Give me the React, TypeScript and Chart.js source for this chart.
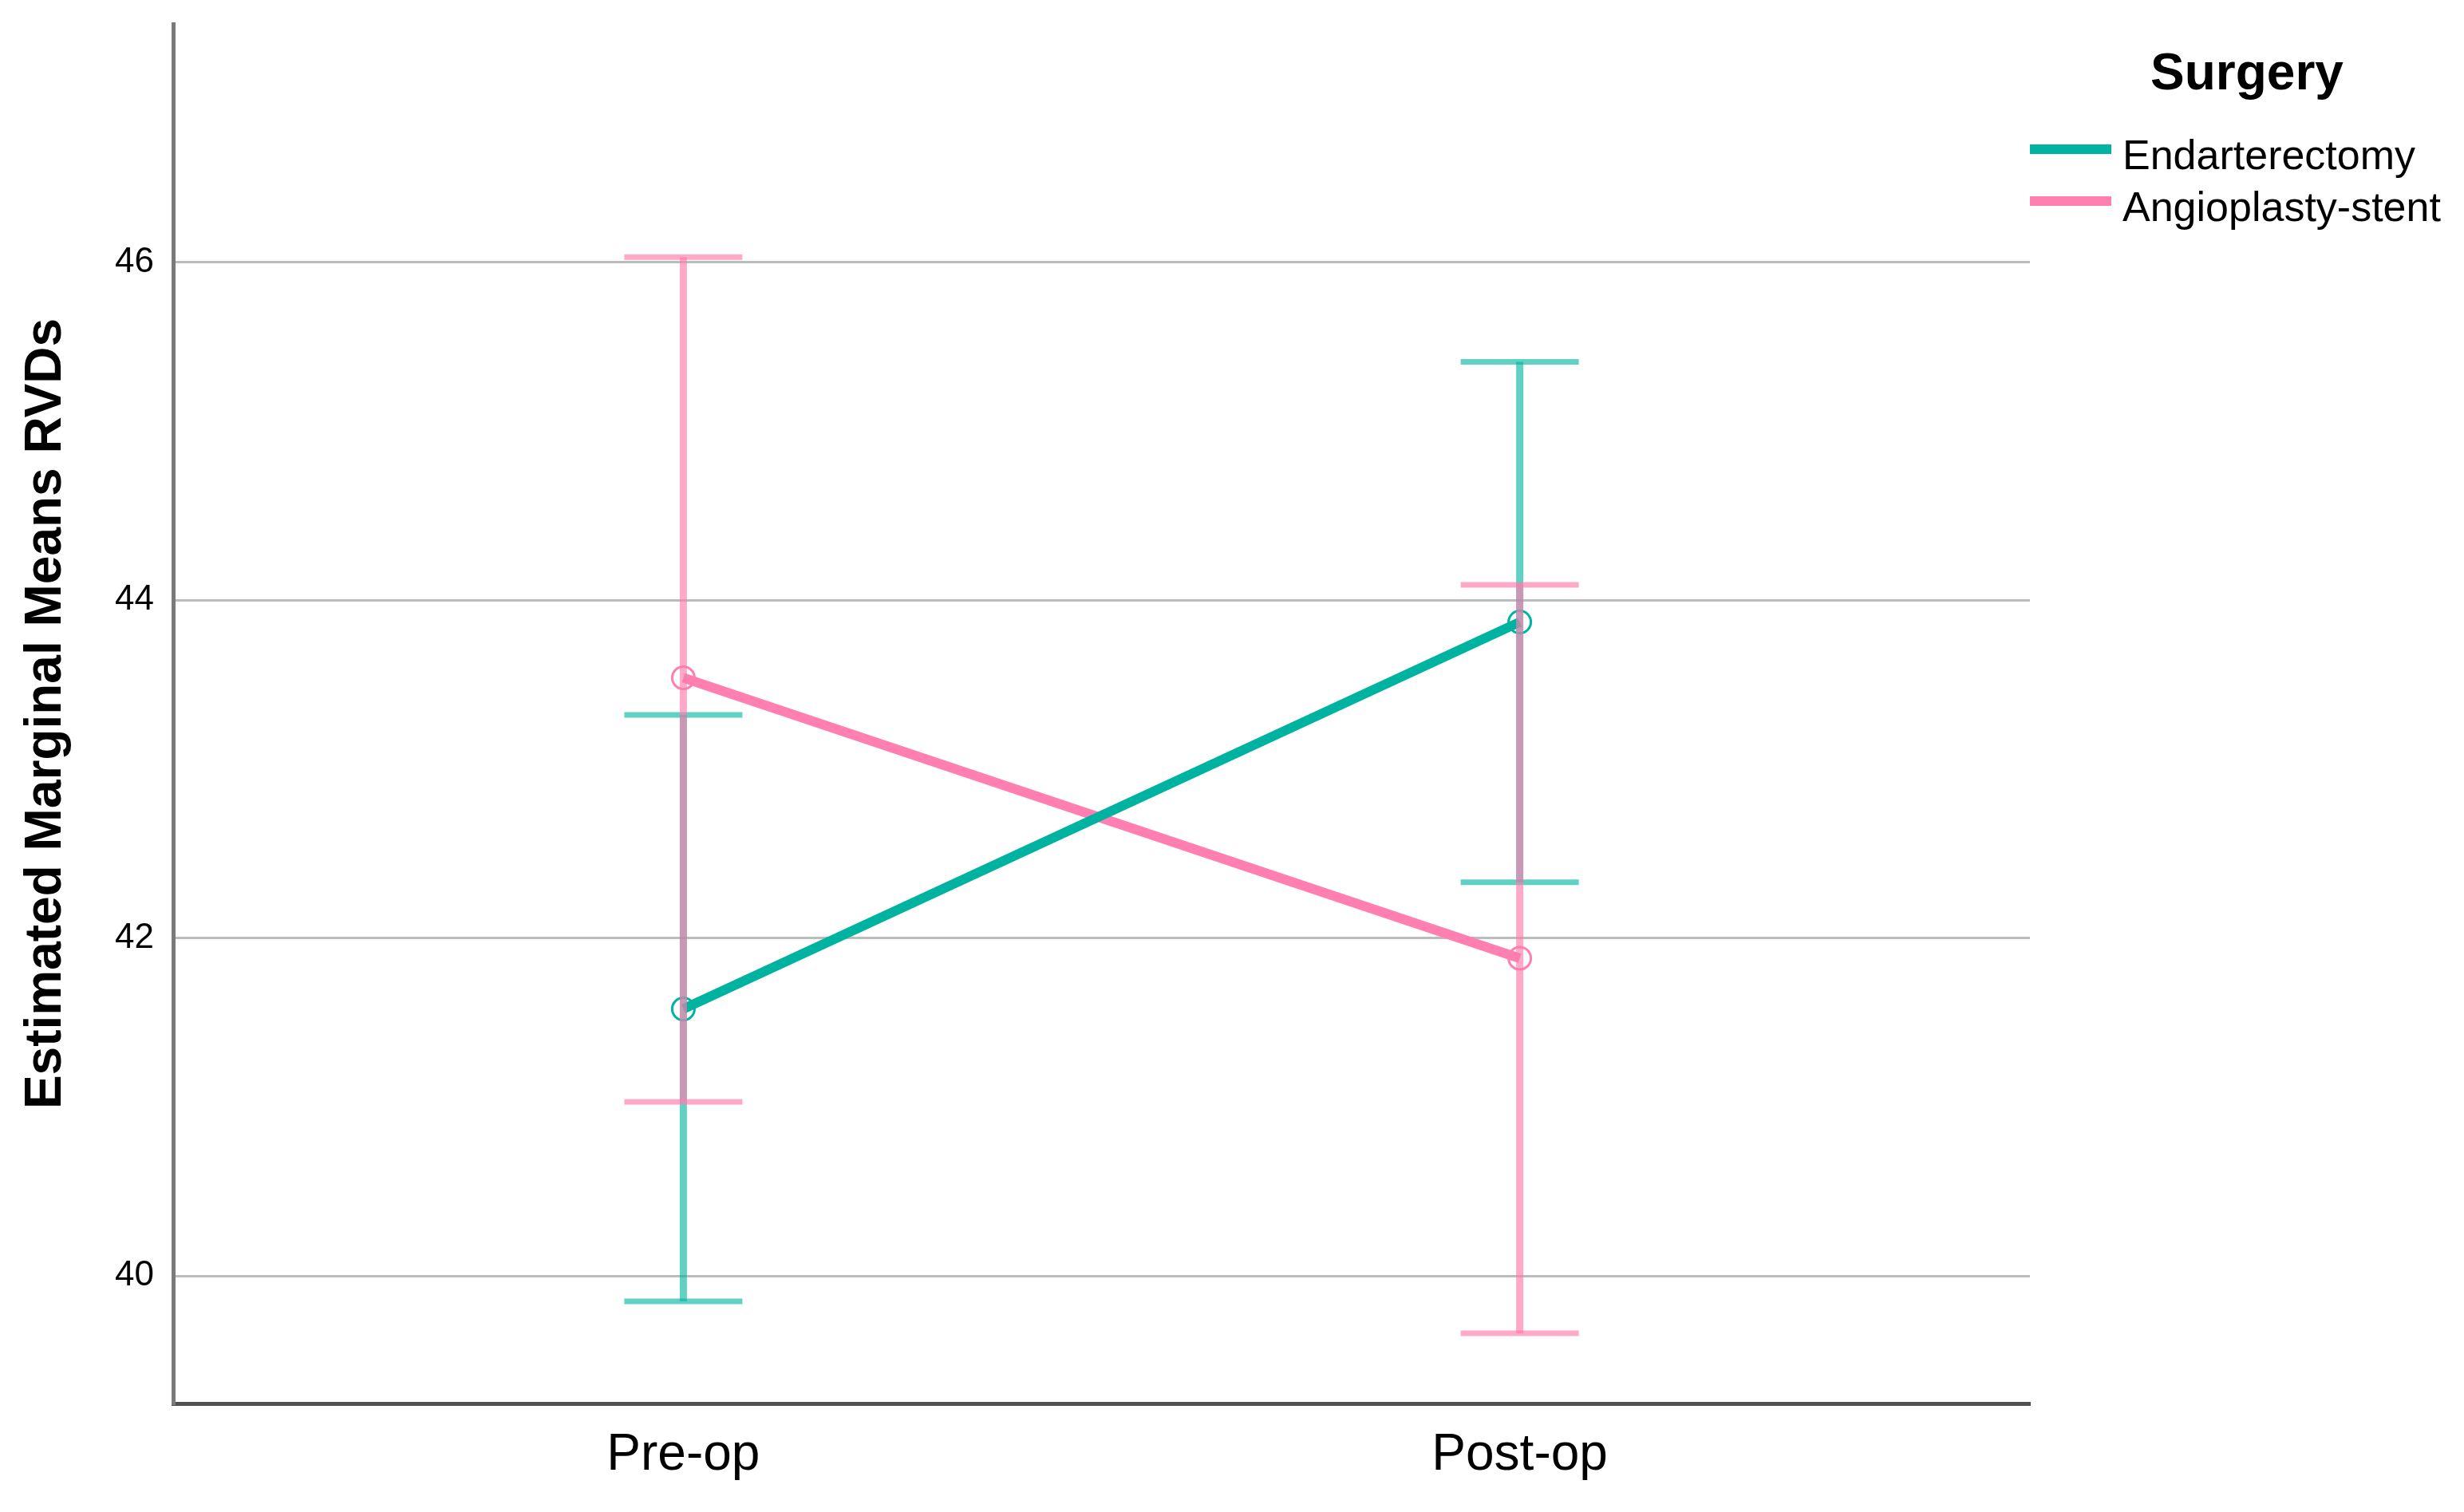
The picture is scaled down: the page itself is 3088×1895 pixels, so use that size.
import React, { useEffect, useRef } from "react";
import { Chart, registerables } from "chart.js";

Chart.register(...registerables);

// ---- data ----
const categories = ["Pre-op", "Post-op"];
const seriesNames = ["Endarterectomy", "Angioplasty-stent"];
const endarterectomyMeans = [41.58, 43.87];
const endarterectomyLower = [39.85, 42.33];
const endarterectomyUpper = [43.32, 45.41];
const angioplastyMeans = [43.54, 41.88];
const angioplastyLower = [41.03, 39.66];
const angioplastyUpper = [46.03, 44.09];
const yTicks = [40, 42, 44, 46];
const legendTitle = "Surgery";
const yTitle = "Estimated Marginal Means RVDs";

const W = 3088;
const H = 1895;
const FONT = '"Liberation Sans", Arial, Helvetica, sans-serif';

const TEAL = "#00B3A0";
const PINK = "#FF80B0";
const TEAL_ERR = "rgba(0,181,160,0.62)";
const PINK_ERR = "rgba(255,123,172,0.65)";

const errorBarPlugin = {
  id: "errorBars",
  afterDatasetsDraw(chart: any) {
    const { ctx, scales } = chart;
    const xs = scales.x;
    const ys = scales.y;
    chart.data.datasets.forEach((ds: any) => {
      ctx.save();
      ctx.strokeStyle = ds.errColor;
      ctx.lineCap = "butt";
      ds.data.forEach((p: any, j: number) => {
        const px = xs.getPixelForValue(p.x);
        const yl = ys.getPixelForValue(ds.errLower[j]);
        const yh = ys.getPixelForValue(ds.errUpper[j]);
        ctx.lineWidth = 9;
        ctx.beginPath();
        ctx.moveTo(px, yl);
        ctx.lineTo(px, yh);
        ctx.stroke();
        ctx.lineWidth = 7;
        ctx.beginPath();
        ctx.moveTo(px - 74, yl);
        ctx.lineTo(px + 74, yl);
        ctx.stroke();
        ctx.beginPath();
        ctx.moveTo(px - 74, yh);
        ctx.lineTo(px + 74, yh);
        ctx.stroke();
      });
      ctx.restore();
    });
  },
};

const legendPlugin = {
  id: "customLegend",
  afterDraw(chart: any) {
    const ctx = chart.ctx;
    ctx.save();
    ctx.fillStyle = "#000";
    ctx.font = `bold 64px ${FONT}`;
    ctx.textAlign = "center";
    ctx.textBaseline = "alphabetic";
    ctx.fillText(legendTitle, 2816, 112);
    chart.data.datasets.forEach((ds: any, i: number) => {
      const base = 212 + i * 65;
      ctx.strokeStyle = ds.borderColor;
      ctx.lineWidth = 12;
      ctx.beginPath();
      ctx.moveTo(2544, base - 25);
      ctx.lineTo(2646, base - 25);
      ctx.stroke();
      ctx.fillStyle = "#000";
      ctx.font = `52px ${FONT}`;
      ctx.textAlign = "left";
      ctx.fillText(ds.label, 2660, base);
    });
    ctx.restore();
  },
};

function makeSeries(means: number[]) {
  return means.map((v, i) => ({ x: i + 1, y: v }));
}

export default function App() {
  const ref = useRef<HTMLCanvasElement | null>(null);

  useEffect(() => {
    if (!ref.current) return;
    Chart.defaults.font.family = FONT;
    const chart = new Chart(ref.current, {
      type: "line",
      data: {
        datasets: [
          {
            label: seriesNames[0],
            data: makeSeries(endarterectomyMeans),
            borderColor: TEAL,
            backgroundColor: TEAL,
            borderWidth: 12,
            pointRadius: 14,
            pointBorderWidth: 3,
            pointBorderColor: TEAL,
            pointBackgroundColor: "rgba(255,255,255,0)",
            tension: 0,
            errLower: endarterectomyLower,
            errUpper: endarterectomyUpper,
            errColor: TEAL_ERR,
          } as any,
          {
            label: seriesNames[1],
            data: makeSeries(angioplastyMeans),
            borderColor: PINK,
            backgroundColor: PINK,
            borderWidth: 12,
            pointRadius: 14,
            pointBorderWidth: 3,
            pointBorderColor: PINK,
            pointBackgroundColor: "rgba(255,255,255,0)",
            tension: 0,
            errLower: angioplastyLower,
            errUpper: angioplastyUpper,
            errColor: PINK_ERR,
          } as any,
        ],
      },
      options: {
        responsive: false,
        animation: false,
        events: [],
        layout: { padding: { top: 30, right: 544, bottom: 0, left: 0 } },
        plugins: {
          legend: { display: false },
          tooltip: { enabled: false },
          title: { display: false },
        },
        scales: {
          x: {
            type: "linear",
            min: 0.39,
            max: 2.61,
            afterBuildTicks: (scale: any) => {
              scale.ticks = categories.map((_, i) => ({ value: i + 1 }));
            },
            afterFit: (scale: any) => {
              scale.height = 136;
              scale.paddingLeft = 0;
              scale.paddingRight = 0;
            },
            ticks: {
              autoSkip: false,
              maxRotation: 0,
              padding: 27,
              color: "#000",
              font: { size: 64 },
              callback: (v: any) => categories[Math.round(Number(v)) - 1] ?? "",
            },
            grid: { display: false, drawTicks: false },
            border: { display: true, color: "#505050", width: 5 },
          },
          y: {
            type: "linear",
            min: 39.245,
            max: 47.41,
            afterBuildTicks: (scale: any) => {
              scale.ticks = yTicks.map((v) => ({ value: v }));
            },
            afterFit: (scale: any) => {
              scale.width = 217;
              scale.paddingTop = 0;
              scale.paddingBottom = 0;
            },
            ticks: {
              padding: 24,
              color: "#000",
              font: { size: 44 },
              callback: (v: any) => String(v),
            },
            grid: { color: "#BCBCBC", lineWidth: 3, drawTicks: false },
            border: { display: true, color: "#7A7A7A", width: 5 },
            title: {
              display: true,
              text: yTitle,
              color: "#000",
              font: { size: 64, weight: "bold" },
              padding: { top: 20, bottom: 0 },
            },
          },
        },
      },
      plugins: [errorBarPlugin, legendPlugin],
    } as any);
    return () => chart.destroy();
  }, []);

  return (
    <div
      style={{
        position: "fixed",
        left: 0,
        top: 0,
        width: W,
        height: H,
        background: "#fff",
      }}
    >
      <canvas ref={ref} width={W} height={H} style={{ display: "block" }} />
    </div>
  );
}
